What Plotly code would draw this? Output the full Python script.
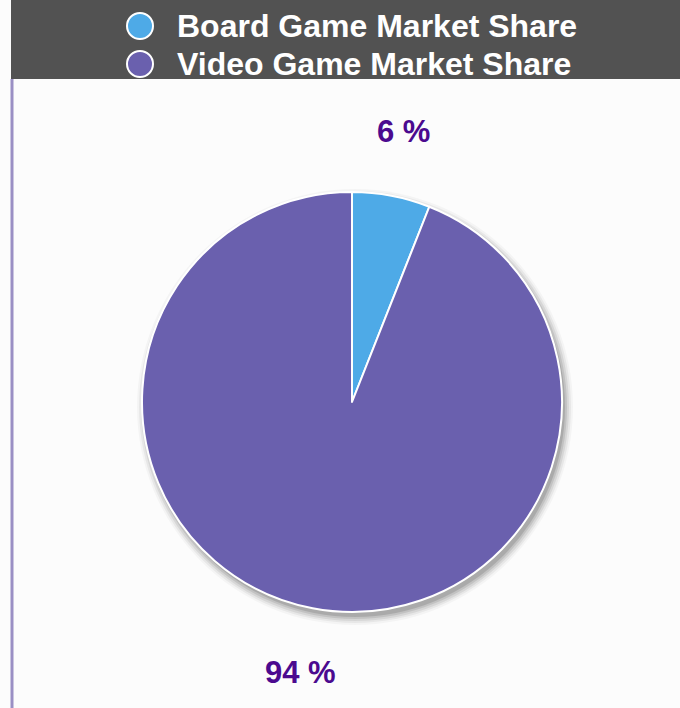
import math
import plotly.graph_objects as go

W, H = 680, 708

categories = ["Board Game Market Share", "Video Game Market Share"]
shares = [6, 94]
slice_colors = ["#4EAAE7", "#6A60AE"]
label_color = "#4B0A8F"

FONT = "Liberation Sans, Arial, sans-serif"

# pie geometry in pixels
cx, cy, r = 352, 402, 210
label_r = 275

fig = go.Figure()

fig.add_trace(go.Pie(
    values=shares,
    labels=categories,
    sort=False,
    direction="clockwise",
    rotation=0,
    marker=dict(colors=slice_colors, line=dict(color="#ffffff", width=2)),
    textinfo="none",
    hoverinfo="label+percent",
    showlegend=False,
    domain=dict(x=[(cx - r) / W, (cx + r) / W],
                y=[1 - (cy + r) / H, 1 - (cy - r) / H]),
))

# legend markers drawn on a pixel-space overlay
legend_x = 140
legend_y = [26, 64]
fig.add_trace(go.Scatter(
    x=[legend_x] * len(categories),
    y=legend_y,
    mode="markers",
    marker=dict(size=26, color=slice_colors, line=dict(color="#ffffff", width=2)),
    text=categories,
    hoverinfo="text",
    showlegend=False,
))

for name, y in zip(categories, legend_y):
    fig.add_annotation(x=175, y=y, xref="x", yref="y", text=f"<b>{name}</b>",
                       showarrow=False, xanchor="left", yanchor="middle",
                       font=dict(family=FONT, size=32, color="#ffffff"))

# percentage labels placed along each slice's mid-angle
total = sum(shares)
start = 0.0
for v in shares:
    frac = v / total
    mid = (start + frac / 2) * 2 * math.pi
    start += frac
    lx = cx + label_r * math.sin(mid)
    ly = cy - label_r * math.cos(mid)
    fig.add_annotation(x=lx, y=ly, xref="x", yref="y",
                       text=f"<b>{round(frac * 100)} %</b>", showarrow=False,
                       xanchor="center", yanchor="middle",
                       font=dict(family=FONT, size=31, color=label_color))

shapes = [
    # header band behind the legend
    dict(type="rect", xref="x", yref="y", x0=11, x1=W, y0=0, y1=79,
         fillcolor="#525252", line=dict(width=0), layer="below"),
    # left accent rule
    dict(type="line", xref="x", yref="y", x0=12, x1=12, y0=79, y1=H,
         line=dict(color="#9A8FC4", width=3), layer="below"),
]
# soft drop shadow under the pie
for k, op in [(8, 0.03), (6, 0.05), (4, 0.07), (2, 0.09), (0, 0.12)]:
    shapes.append(dict(type="circle", xref="x", yref="y",
                       x0=cx + 3 - r - k, x1=cx + 3 + r + k,
                       y0=cy + 5 - r - k, y1=cy + 5 + r + k,
                       fillcolor=f"rgba(0,0,0,{op})", line=dict(width=0),
                       layer="below"))

fig.update_layout(
    width=W, height=H,
    margin=dict(l=0, r=0, t=0, b=0),
    paper_bgcolor="#FCFCFC",
    plot_bgcolor="rgba(0,0,0,0)",
    xaxis=dict(range=[0, W], visible=False, fixedrange=True),
    yaxis=dict(range=[H, 0], visible=False, fixedrange=True),
    shapes=shapes,
    showlegend=False,
)

fig.write_html("out.html")
